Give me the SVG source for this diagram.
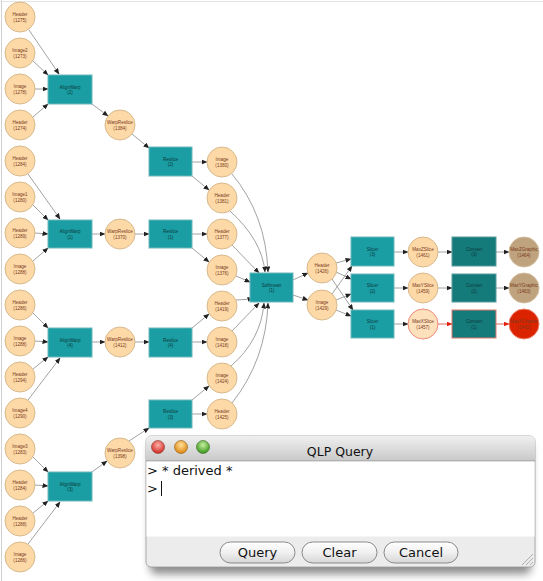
<svg xmlns="http://www.w3.org/2000/svg" width="543" height="581" viewBox="0 0 543 581">
<style>
.c{fill:#fdd9a8;stroke:#d8b98c;stroke-width:1}
.b{fill:#1a9ea4;stroke:#6cb7bb;stroke-width:1}
.cv{fill:#147a7a;stroke:#5a9c9c;stroke-width:1}
.g{fill:#bfa27e;stroke:#d2bc9c;stroke-width:1}
.r{fill:#dc2300;stroke:#ee8070;stroke-width:1}
.cr{fill:#fde0bc;stroke:#f08a7a;stroke-width:1}
.cvr{fill:#147a7a;stroke:#e07a70;stroke-width:1}
.t{font-family:"Liberation Sans",Arial,sans-serif;font-size:4.6px;text-anchor:middle;fill:#7a3a20}
.tb{font-family:"Liberation Sans",Arial,sans-serif;font-size:4.6px;text-anchor:middle;fill:#0d3a3c}
.e{fill:none;stroke:#8a8a8a;stroke-width:0.8;marker-end:url(#a)}
.er{fill:none;stroke:#e04030;stroke-width:0.8;marker-end:url(#ar)}
.ui{font-family:"DejaVu Sans","Open Sans",sans-serif;fill:#111}
.btn{fill:url(#bg);stroke:#8a8a8a;stroke-width:1}
</style>
<defs>
<marker id="a" markerWidth="6" markerHeight="5" refX="5.5" refY="2.5" orient="auto" markerUnits="userSpaceOnUse"><path d="M0,0 L6,2.5 L0,5 z" fill="#222"/></marker>
<marker id="ar" markerWidth="6" markerHeight="5" refX="5.5" refY="2.5" orient="auto" markerUnits="userSpaceOnUse"><path d="M0,0 L6,2.5 L0,5 z" fill="#e02010"/></marker>
<linearGradient id="tg" x1="0" y1="0" x2="0" y2="1"><stop offset="0" stop-color="#efefef"/><stop offset="1" stop-color="#c9c9c9"/></linearGradient>
<linearGradient id="bg" x1="0" y1="0" x2="0" y2="1"><stop offset="0" stop-color="#ffffff"/><stop offset="0.5" stop-color="#f0f0f0"/><stop offset="1" stop-color="#d6d6d6"/></linearGradient>
<radialGradient id="lr" cx="0.5" cy="0.35" r="0.6"><stop offset="0" stop-color="#ffb0a8"/><stop offset="1" stop-color="#d0302a"/></radialGradient>
<radialGradient id="lo" cx="0.5" cy="0.35" r="0.6"><stop offset="0" stop-color="#ffe0a0"/><stop offset="1" stop-color="#e08a10"/></radialGradient>
<radialGradient id="lg" cx="0.5" cy="0.35" r="0.6"><stop offset="0" stop-color="#c8f0a0"/><stop offset="1" stop-color="#3f9a20"/></radialGradient>
<filter id="sh" x="-10%" y="-20%" width="120%" height="150%"><feGaussianBlur stdDeviation="4"/></filter>
</defs>
<rect x="0" y="0" width="543" height="581" fill="#ffffff"/>
<line x1="1.5" y1="0" x2="1.5" y2="581" stroke="#d0d0d0" stroke-width="1"/>
<line x1="0" y1="1.5" x2="543" y2="1.5" stroke="#e4e4e4" stroke-width="1"/>

<g id="edges">
<path class="e" d="M29,30 L59,74"/>
<path class="e" d="M33,61 L48,75"/>
<path class="e" d="M35,89 L48,89"/>
<path class="e" d="M33,117 L48,104"/>
<path class="e" d="M92,104 L108,116"/>
<path class="e" d="M132,134 L149,148"/>
<path class="e" d="M192,162 L207,162"/>
<path class="e" d="M192,176 L209,190"/>

<path class="e" d="M28,174 L60,219"/>
<path class="e" d="M33,205 L48,220"/>
<path class="e" d="M35,233 L48,234"/>
<path class="e" d="M33,261 L48,248"/>
<path class="e" d="M92,234 L105,234"/>
<path class="e" d="M135,234 L149,234"/>
<path class="e" d="M192,234 L207,234"/>
<path class="e" d="M192,248 L209,262"/>

<path class="e" d="M33,313 L48,328"/>
<path class="e" d="M35,341 L48,342"/>
<path class="e" d="M33,369 L48,357"/>
<path class="e" d="M28,400 L60,358"/>
<path class="e" d="M92,342 L105,342"/>
<path class="e" d="M135,342 L149,342"/>
<path class="e" d="M192,328 L209,314"/>
<path class="e" d="M192,342 L207,342"/>

<path class="e" d="M33,457 L48,472"/>
<path class="e" d="M35,485 L48,486"/>
<path class="e" d="M33,513 L48,501"/>
<path class="e" d="M28,544 L60,502"/>
<path class="e" d="M92,472 L107,461"/>
<path class="e" d="M129,441 L149,428"/>
<path class="e" d="M192,400 L209,386"/>
<path class="e" d="M192,414 L207,414"/>

<path class="e" d="M232,174 Q266,215 268,272"/>
<path class="e" d="M230,211 Q262,240 265,272"/>
<path class="e" d="M232,245 L259,273"/>
<path class="e" d="M236,276 L250,282"/>
<path class="e" d="M236,300 L253,299"/>
<path class="e" d="M232,331 L259,303"/>
<path class="e" d="M231,366 Q261,340 264,303"/>
<path class="e" d="M232,403 Q266,360 268,303"/>

<path class="e" d="M293,280 L308,273"/>
<path class="e" d="M293,295 L308,300"/>
<path class="e" d="M336,263 L351,259"/>
<path class="e" d="M332,294 L352,266"/>
<path class="e" d="M336,272 L351,279"/>
<path class="e" d="M336,300 L351,294"/>
<path class="e" d="M332,279 L353,310"/>
<path class="e" d="M336,310 L351,316"/>

<path class="e" d="M394,252 L408,252"/>
<path class="e" d="M394,288 L408,288"/>
<path class="e" d="M394,324 L408,324"/>
<path class="e" d="M438,252 L452,252"/>
<path class="e" d="M438,288 L452,288"/>
<path class="er" d="M438,324 L452,324"/>
<path class="e" d="M496,252 L509,252"/>
<path class="e" d="M496,288 L509,288"/>
<path class="er" d="M496,324 L509,324"/>
</g>

<g id="n_h1275"><circle class="c" cx="20" cy="17" r="15"/><text class="t" x="20" y="16">Header</text><text class="t" x="20" y="21.5">(1275)</text></g>
<g id="n_i2"><circle class="c" cx="20" cy="53" r="15"/><text class="t" x="20" y="52">Image2</text><text class="t" x="20" y="57.5">(1273)</text></g>
<g id="n_i1278"><circle class="c" cx="20" cy="89" r="15"/><text class="t" x="20" y="88">Image</text><text class="t" x="20" y="93.5">(1278)</text></g>
<g id="n_h1274"><circle class="c" cx="20" cy="125" r="15"/><text class="t" x="20" y="124">Header</text><text class="t" x="20" y="129.5">(1274)</text></g>
<g id="n_h1284"><circle class="c" cx="20" cy="161" r="15"/><text class="t" x="20" y="160">Header</text><text class="t" x="20" y="165.5">(1284)</text></g>
<g id="n_i1"><circle class="c" cx="20" cy="197" r="15"/><text class="t" x="20" y="196">Image1</text><text class="t" x="20" y="201.5">(1280)</text></g>
<g id="n_h1289"><circle class="c" cx="20" cy="233" r="15"/><text class="t" x="20" y="232">Header</text><text class="t" x="20" y="237.5">(1289)</text></g>
<g id="n_i1288"><circle class="c" cx="20" cy="269" r="15"/><text class="t" x="20" y="268">Image</text><text class="t" x="20" y="273.5">(1288)</text></g>
<g id="n_h1286"><circle class="c" cx="20" cy="305" r="15"/><text class="t" x="20" y="304">Header</text><text class="t" x="20" y="309.5">(1286)</text></g>
<g id="n_i1285"><circle class="c" cx="20" cy="341" r="15"/><text class="t" x="20" y="340">Image</text><text class="t" x="20" y="345.5">(1288)</text></g>
<g id="n_h1294"><circle class="c" cx="20" cy="377" r="15"/><text class="t" x="20" y="376">Header</text><text class="t" x="20" y="381.5">(1294)</text></g>
<g id="n_i4"><circle class="c" cx="20" cy="413" r="15"/><text class="t" x="20" y="412">Image4</text><text class="t" x="20" y="417.5">(1290)</text></g>
<g id="n_i3"><circle class="c" cx="20" cy="449" r="15"/><text class="t" x="20" y="448">Image3</text><text class="t" x="20" y="453.5">(1283)</text></g>
<g id="n_h1281"><circle class="c" cx="20" cy="485" r="15"/><text class="t" x="20" y="484">Header</text><text class="t" x="20" y="489.5">(1284)</text></g>
<g id="n_h1282"><circle class="c" cx="20" cy="521" r="15"/><text class="t" x="20" y="520">Header</text><text class="t" x="20" y="525.5">(1288)</text></g>
<g id="n_i1286"><circle class="c" cx="20" cy="557" r="15"/><text class="t" x="20" y="556">Image</text><text class="t" x="20" y="561.5">(1286)</text></g>

<g id="n_aw2"><rect class="b" x="48" y="75" width="44" height="29"/><text class="tb" x="70" y="88.5">AlignWarp</text><text class="tb" x="70" y="94">(2)</text></g>
<g id="n_aw1"><rect class="b" x="48" y="220" width="44" height="28"/><text class="tb" x="70" y="233">AlignWarp</text><text class="tb" x="70" y="238.5">(1)</text></g>
<g id="n_aw4"><rect class="b" x="48" y="328" width="44" height="29"/><text class="tb" x="70" y="341.5">AlignWarp</text><text class="tb" x="70" y="347">(4)</text></g>
<g id="n_aw3"><rect class="b" x="48" y="472" width="44" height="29"/><text class="tb" x="70" y="485.5">AlignWarp</text><text class="tb" x="70" y="491">(3)</text></g>

<g id="n_wr1384"><circle class="c" cx="120" cy="125" r="15"/><text class="t" x="120" y="124">WarpReslice</text><text class="t" x="120" y="129.5">(1384)</text></g>
<g id="n_wr1370"><circle class="c" cx="120" cy="234" r="15"/><text class="t" x="120" y="233">WarpReslice</text><text class="t" x="120" y="238.5">(1370)</text></g>
<g id="n_wr1412"><circle class="c" cx="120" cy="342" r="15"/><text class="t" x="120" y="341">WarpReslice</text><text class="t" x="120" y="346.5">(1412)</text></g>
<g id="n_wr1398"><circle class="c" cx="120" cy="453" r="15"/><text class="t" x="120" y="452">WarpReslice</text><text class="t" x="120" y="457.5">(1398)</text></g>

<g id="n_rs2"><rect class="b" x="149" y="147" width="43" height="29"/><text class="tb" x="170.5" y="160.5">Reslice</text><text class="tb" x="170.5" y="166">(2)</text></g>
<g id="n_rs1"><rect class="b" x="149" y="220" width="43" height="28"/><text class="tb" x="170.5" y="233">Reslice</text><text class="tb" x="170.5" y="238.5">(1)</text></g>
<g id="n_rs4"><rect class="b" x="149" y="328" width="43" height="29"/><text class="tb" x="170.5" y="341.5">Reslice</text><text class="tb" x="170.5" y="347">(4)</text></g>
<g id="n_rs3"><rect class="b" x="149" y="400" width="43" height="28"/><text class="tb" x="170.5" y="413">Reslice</text><text class="tb" x="170.5" y="418.5">(3)</text></g>

<g id="n_i1380"><circle class="c" cx="222" cy="162" r="15"/><text class="t" x="222" y="161">Image</text><text class="t" x="222" y="166.5">(1380)</text></g>
<g id="n_h1381"><circle class="c" cx="222" cy="198" r="15"/><text class="t" x="222" y="197">Header</text><text class="t" x="222" y="202.5">(1381)</text></g>
<g id="n_h1377"><circle class="c" cx="222" cy="234" r="15"/><text class="t" x="222" y="233">Header</text><text class="t" x="222" y="238.5">(1377)</text></g>
<g id="n_i1376"><circle class="c" cx="222" cy="270" r="15"/><text class="t" x="222" y="269">Image</text><text class="t" x="222" y="274.5">(1376)</text></g>
<g id="n_h1419"><circle class="c" cx="222" cy="306" r="15"/><text class="t" x="222" y="305">Header</text><text class="t" x="222" y="310.5">(1419)</text></g>
<g id="n_i1418"><circle class="c" cx="222" cy="342" r="15"/><text class="t" x="222" y="341">Image</text><text class="t" x="222" y="346.5">(1418)</text></g>
<g id="n_i1424"><circle class="c" cx="222" cy="378" r="15"/><text class="t" x="222" y="377">Image</text><text class="t" x="222" y="382.5">(1424)</text></g>
<g id="n_h1425"><circle class="c" cx="222" cy="414" r="15"/><text class="t" x="222" y="413">Header</text><text class="t" x="222" y="418.5">(1425)</text></g>

<g id="n_soft"><rect class="b" x="250" y="273" width="43" height="29"/><text class="tb" x="271.5" y="286.5">Softmean</text><text class="tb" x="271.5" y="292">(1)</text></g>

<g id="n_h1426"><circle class="c" cx="322" cy="268" r="15"/><text class="t" x="322" y="267">Header</text><text class="t" x="322" y="272.5">(1426)</text></g>
<g id="n_i1429"><circle class="c" cx="322" cy="305" r="15"/><text class="t" x="322" y="304">Image</text><text class="t" x="322" y="309.5">(1429)</text></g>

<g id="n_sl3"><rect class="b" x="351" y="237" width="43" height="29"/><text class="tb" x="372.5" y="250.5">Slicer</text><text class="tb" x="372.5" y="256">(3)</text></g>
<g id="n_sl2"><rect class="b" x="351" y="274" width="43" height="28"/><text class="tb" x="372.5" y="287">Slicer</text><text class="tb" x="372.5" y="292.5">(2)</text></g>
<g id="n_sl1"><rect class="b" x="351" y="310" width="43" height="28"/><text class="tb" x="372.5" y="323">Slicer</text><text class="tb" x="372.5" y="328.5">(1)</text></g>

<g id="n_mz"><circle class="c" cx="423" cy="252" r="15"/><text class="t" x="423" y="251">MaxZSlice</text><text class="t" x="423" y="256.5">(1461)</text></g>
<g id="n_my"><circle class="c" cx="423" cy="288" r="15"/><text class="t" x="423" y="287">MaxYSlice</text><text class="t" x="423" y="292.5">(1459)</text></g>
<g id="n_mx"><circle class="cr" cx="423" cy="324" r="15"/><text class="t" x="423" y="323">MaxXSlice</text><text class="t" x="423" y="328.5">(1457)</text></g>

<g id="n_cv3"><rect class="cv" x="452" y="237" width="44" height="29"/><text class="tb" x="474" y="250.5">Convert</text><text class="tb" x="474" y="256">(3)</text></g>
<g id="n_cv2"><rect class="cv" x="452" y="274" width="44" height="28"/><text class="tb" x="474" y="287">Convert</text><text class="tb" x="474" y="292.5">(2)</text></g>
<g id="n_cv1"><rect class="cvr" x="452" y="310" width="44" height="28"/><text class="tb" x="474" y="323">Convert</text><text class="tb" x="474" y="328.5">(1)</text></g>

<g id="n_gz"><circle class="g" cx="524" cy="252" r="15"/><text class="t" x="524" y="251">MaxZGraphic</text><text class="t" x="524" y="256.5">(1464)</text></g>
<g id="n_gy"><circle class="g" cx="524" cy="288" r="15"/><text class="t" x="524" y="287">MaxYGraphic</text><text class="t" x="524" y="292.5">(1463)</text></g>
<g id="n_gx"><circle class="r" cx="524" cy="324" r="15"/><text class="t" x="524" y="323">MaxXGraphic</text><text class="t" x="524" y="328.5">(1462)</text></g>

<g id="dialog">
<rect x="150" y="444" width="381" height="130" rx="6" fill="#000" opacity="0.45" filter="url(#sh)"/>
<rect x="146" y="436" width="389" height="131" rx="5" fill="#ececec" stroke="#9a9a9a" stroke-width="0.8"/>
<path d="M146,461 L146,441 Q146,436 151,436 L530,436 Q535,436 535,441 L535,461 Z" fill="url(#tg)"/>
<line x1="146" y1="461" x2="535" y2="461" stroke="#8c8c8c" stroke-width="0.8"/>
<circle cx="158" cy="447" r="6.5" fill="url(#lr)" stroke="#8a3a30" stroke-width="0.6"/>
<circle cx="181" cy="447" r="6.5" fill="url(#lo)" stroke="#8a5a20" stroke-width="0.6"/>
<circle cx="203" cy="447" r="6.5" fill="url(#lg)" stroke="#3a6a20" stroke-width="0.6"/>
<text class="ui" x="340" y="455.5" font-size="12.5" text-anchor="middle">QLP Query</text>
<rect x="146.5" y="461.5" width="388" height="75" fill="#ffffff"/>
<text class="ui" x="147" y="475" font-size="13">&gt; * derived *</text>
<text class="ui" x="147" y="493" font-size="13">&gt;</text>
<line x1="161.5" y1="481" x2="161.5" y2="496" stroke="#111" stroke-width="1"/>
<rect x="220" y="542" width="75" height="21" rx="10.5" class="btn"/>
<text class="ui" x="257.5" y="557" font-size="13" text-anchor="middle">Query</text>
<rect x="302" y="542" width="75" height="21" rx="10.5" class="btn"/>
<text class="ui" x="339.5" y="557" font-size="13" text-anchor="middle">Clear</text>
<rect x="384" y="542" width="74" height="21" rx="10.5" class="btn"/>
<text class="ui" x="421" y="557" font-size="13" text-anchor="middle">Cancel</text>
<g stroke="#a0a0a0" stroke-width="0.8">
<line x1="522" y1="565" x2="533" y2="554"/>
<line x1="526" y1="565" x2="533" y2="558"/>
<line x1="530" y1="565" x2="533" y2="562"/>
</g>
</g>
</svg>
